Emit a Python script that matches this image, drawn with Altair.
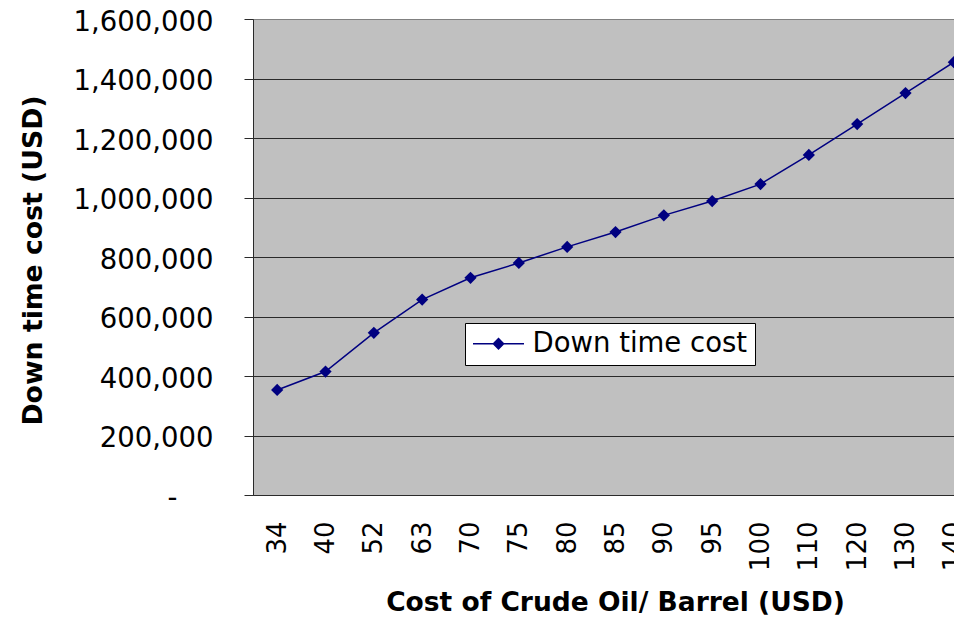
import altair as alt
import pandas as pd

# ---- data ----
oil_price = ["34", "40", "52", "63", "70", "75", "80", "85", "90", "95",
             "100", "110", "120", "130", "140"]
downtime_cost = [353000, 415000, 545000, 657000, 730000, 780000, 834000,
                 884000, 940000, 988000, 1045000, 1143000, 1247000,
                 1351000, 1455000]
series_name = "Down time cost"
y_ticks = [0, 200000, 400000, 600000, 800000, 1000000, 1200000, 1400000, 1600000]

df = pd.DataFrame({"price": oil_price, "cost": downtime_cost,
                   "series": [series_name] * len(oil_price)})

FONT = "DejaVu Sans"
NAVY = "#000080"
GRID = "#2a2a2a"

chart = alt.Chart(df).mark_line(
    strokeWidth=1.5,
    point=alt.OverlayMarkDef(shape="diamond", filled=True, size=150),
).encode(
    x=alt.X(
        "price:O",
        sort=oil_price,
        scale=alt.Scale(type="point", range=[0, 725], padding=0.5),
        axis=alt.Axis(
            title="Cost of Crude Oil/ Barrel (USD)",
            labelAngle=270,
            labelFont=FONT,
            labelFontSize=26,
            labelColor="black",
            labelPadding=26,
            ticks=False,
            domainColor=GRID,
            titleFont=FONT,
            titleFontSize=26.5,
            titleFontWeight="bold",
            titleColor="black",
            titleBaseline="alphabetic",
            titleX=362,
            titleY=115,
            grid=False,
        ),
    ),
    y=alt.Y(
        "cost:Q",
        scale=alt.Scale(domain=[0, 1600000], nice=False),
        axis=alt.Axis(
            values=y_ticks,
            title="Down time cost (USD)",
            labelExpr="datum.value == 0 ? '-' : format(datum.value, ',')",
            labelFont=FONT,
            labelFontSize=27.5,
            labelColor="black",
            labelOffset=3,
            labelPadding=alt.condition("datum.value == 0", alt.value(67), alt.value(31)),
            tickSize=9,
            tickColor=GRID,
            domainColor=GRID,
            gridColor=alt.condition("datum.value == 1600000", alt.value("#808080"), alt.value(GRID)),
            gridOpacity=1,
            titleFont=FONT,
            titleFontSize=26.7,
            titleFontWeight="bold",
            titleColor="black",
            titleAngle=270,
            titleBaseline="alphabetic",
            titleX=-212,
            titleY=241,
        ),
    ),
    color=alt.Color(
        "series:N",
        scale=alt.Scale(range=[NAVY]),
        legend=alt.Legend(
            title=None,
            orient="none",
            legendX=212,
            legendY=304,
            fillColor="white",
            strokeColor="black",
            padding=7,
            symbolType="M-1,0H3M1,-0.4L1.4,0L1,0.4L0.6,0Z",
            symbolSize=650,
            symbolStrokeColor=NAVY,
            symbolFillColor=NAVY,
            symbolStrokeWidth=1.5,
            labelFont=FONT,
            labelFontSize=27.5,
            labelColor="black",
            labelOffset=33,
            labelLimit=0,
        ),
    ),
).properties(
    width=701,
    height=476,
    autosize=alt.AutoSizeParams(type="none"),
    padding={"left": 245, "top": 11, "right": 0, "bottom": 122},
).configure_view(
    fill="#C0C0C0",
    stroke="#808080",
)

chart.save("out.html", embed_options={"renderer": "svg", "actions": False})
